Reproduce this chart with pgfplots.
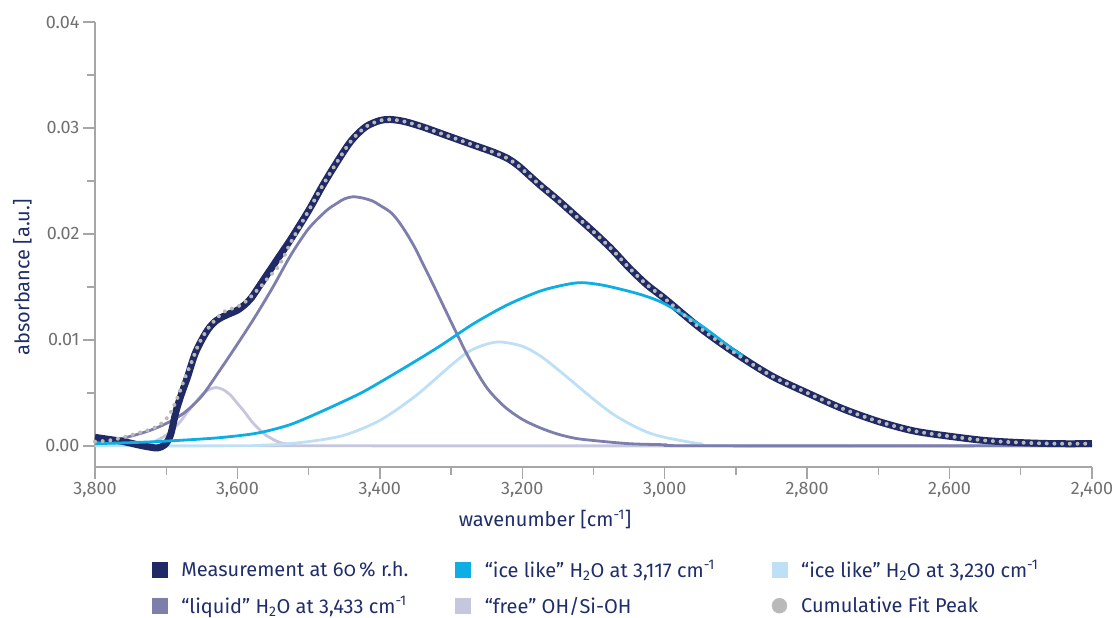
\documentclass[border=0pt]{standalone}
\usepackage{fontspec}
\setmainfont{Fira Sans}
\usepackage{pgfplots}
\pgfplotsset{compat=1.18}
\definecolor{navy}{RGB}{31,42,102}
\definecolor{icecyan}{RGB}{12,174,228}
\definecolor{icelight}{RGB}{190,224,246}
\definecolor{liquid}{RGB}{126,126,172}
\definecolor{freeoh}{RGB}{198,198,223}
\definecolor{fitgray}{RGB}{185,185,185}
\definecolor{axisgray}{RGB}{166,166,166}
\definecolor{tickgray}{RGB}{112,112,112}
\definecolor{labelnavy}{RGB}{31,45,107}

\pgfplotstableread{
x y
3800 0.0008
3780 0.0006
3760 0.0004
3740 0.0001
3725 -0.0001
3712 -0.0002
3702 0.0001
3694 0.0010
3686 0.0033
3678 0.0050
3670 0.0065
3660 0.0086
3650 0.0100
3640 0.0111
3630 0.0118
3620 0.0122
3610 0.0125
3600 0.0128
3590 0.0133
3580 0.0140
3570 0.0150
3560 0.0160
3550 0.0170
3537 0.0183
3525 0.0195
3500 0.0222
3480 0.0246
3460 0.0268
3440 0.0288
3420 0.0301
3400 0.0307
3385 0.0308
3365 0.0306
3340 0.0301
3315 0.0295
3290 0.0289
3265 0.0283
3240 0.0277
3220 0.0271
3205 0.0264
3190 0.0255
3175 0.0246
3150 0.0232
3125 0.0217
3100 0.0202
3075 0.0186
3050 0.0168
3025 0.0152
3000 0.0139
2950 0.0111
2900 0.0087
2850 0.0066
2800 0.0050
2750 0.0035
2700 0.0023
2650 0.0014
2600 0.0009
2550 0.0005
2500 0.0003
2450 0.0002
2400 0.0002
}\measured

\pgfplotstableread{
x y
3800 0.0004
3780 0.0005
3760 0.0008
3740 0.0012
3720 0.0016
3705 0.0022
3695 0.0030
3685 0.0044
3675 0.0062
3665 0.0078
3655 0.0095
3645 0.0107
3635 0.0116
3625 0.0123
3615 0.0128
3605 0.0130
3595 0.0133
3585 0.0138
3575 0.0145
3565 0.0152
3555 0.0160
3545 0.0167
3535 0.0178
3525 0.0192
3500 0.0222
3480 0.0246
3460 0.0268
3440 0.0288
3420 0.0301
3400 0.0307
3385 0.0308
3365 0.0306
3340 0.0301
3315 0.0295
3290 0.0289
3265 0.0283
3240 0.0277
3220 0.0271
3205 0.0264
3190 0.0255
3175 0.0246
3150 0.0232
3125 0.0217
3100 0.0202
3075 0.0186
3050 0.0168
3025 0.0152
3000 0.0139
2950 0.0111
2900 0.0087
2850 0.0066
2800 0.0050
2750 0.0035
2700 0.0023
2650 0.0014
2600 0.0009
2550 0.0005
2500 0.0003
2450 0.0002
2400 0.0002
}\cumfit

\pgfplotstableread{
x y
3800 0.0002
3750 0.0003
3713 0.0004
3660 0.0006
3620 0.0008
3572 0.0012
3526 0.0020
3480 0.0033
3432 0.0048
3410 0.0056
3362 0.0075
3316 0.0094
3269 0.0115
3221 0.0133
3175 0.0146
3140 0.0152
3117 0.0154
3090 0.0152
3063 0.0148
3030 0.0142
3000 0.0134
2950 0.0114
2904 0.0091
2890 0.0085
}\iceA

\pgfplotstableread{
x y
3800 0.0000
3600 0.0000
3550 0.0001
3500 0.0004
3450 0.0010
3400 0.0024
3350 0.0047
3300 0.0076
3275 0.0089
3250 0.0096
3230 0.0098
3200 0.0094
3175 0.0085
3150 0.0072
3125 0.0058
3100 0.0044
3075 0.0031
3050 0.0021
3025 0.0013
3000 0.0008
2950 0.0002
2900 0.0000
2400 0.0000
}\iceB

\pgfplotstableread{
x y
3800 0.0003
3775 0.0005
3750 0.0009
3725 0.0014
3700 0.0021
3675 0.0031
3650 0.0047
3625 0.0071
3600 0.0096
3575 0.0122
3550 0.0150
3525 0.0180
3500 0.0205
3475 0.0222
3460 0.0229
3450 0.0233
3438 0.0235
3425 0.0234
3410 0.0231
3400 0.0227
3386 0.0221
3375 0.0213
3362 0.0200
3350 0.0186
3339 0.0171
3325 0.0152
3300 0.0117
3275 0.0083
3250 0.0055
3225 0.0037
3200 0.0025
3175 0.0017
3150 0.0011
3125 0.0007
3100 0.0005
3050 0.0002
3000 0.0001
2950 0.0000
2400 0.0000
}\liquidtab

\pgfplotstableread{
x y
3800 0.0000
3740 0.0001
3720 0.0003
3700 0.0010
3690 0.0016
3680 0.0023
3670 0.0032
3660 0.0040
3650 0.0048
3640 0.0053
3630 0.0055
3620 0.0053
3610 0.0048
3600 0.0040
3590 0.0032
3580 0.0023
3570 0.0016
3560 0.0010
3540 0.0003
3520 0.0001
3500 0.0000
2400 0.0000
}\freetab

\begin{document}
\begin{tikzpicture}[x=1pt,y=1pt]
\path[use as bounding box] (0,0) rectangle (1116,618);
\begin{axis}[
  at={(95pt,151pt)}, anchor=south west,
  scale only axis, width=997pt, height=445pt,
  xmin=2400, xmax=3800, x dir=reverse,
  ymin=-0.002, ymax=0.04,
  axis x line*=bottom, axis y line*=left,
  axis line style={draw=axisgray, line width=1.4pt, -},
  xtick={2400,2600,2800,3000,3200,3400,3600,3800},
  minor xtick={2500,2700,2900,3100,3300,3500,3700},
  ytick={0,0.01,0.02,0.03,0.04},
  minor ytick={0.005,0.015,0.025,0.035},
  tick align=outside, major tick length=12pt, minor tick length=8pt,
  every tick/.style={draw=axisgray, line width=1.4pt},
  scaled y ticks=false,
  /pgf/number format/assume math mode=true,
  tick label style={font=\fontsize{18}{20}\selectfont, text=tickgray},
  xticklabel style={/pgf/number format/.cd, 1000 sep={,}},
  yticklabel style={/pgf/number format/.cd, fixed, fixed zerofill, precision=2},
  xlabel={wavenumber [cm\textsuperscript{-1}]},
  ylabel={absorbance [a.u.]},
  label style={font=\fontsize{20}{24}\selectfont, text=labelnavy},
  xlabel style={at={(axis cs:3168,-0.00764)}, anchor=base},
  ylabel style={at={(axis cs:3902,0.0159)}, anchor=center},
  legend columns=3,
  legend cell align=left,
  legend style={at={(axis cs:3720,-0.01060)}, anchor=north west, draw=none, fill=none,
    inner sep=0pt, outer sep=0pt, column sep=0pt, row sep=14pt,
    font=\fontsize{20}{24}\selectfont, text=labelnavy},
  clip=false,
]
\addlegendimage{legend image code/.code={\fill[navy] (0pt,-7.5pt) rectangle (15pt,7.5pt);}}
\addlegendentry{\makebox[284pt][l]{\hspace*{12pt}Measurement at {\addfontfeatures{Numbers=OldStyle}60}\,\% r.h.}}
\addlegendimage{legend image code/.code={\fill[icecyan] (0pt,-7.5pt) rectangle (15pt,7.5pt);}}
\addlegendentry{\makebox[297pt][l]{\hspace*{12pt}“ice like” H\textsubscript{2}O at 3,117 cm\textsuperscript{-1}}}
\addlegendimage{legend image code/.code={\fill[icelight] (0pt,-7.5pt) rectangle (15pt,7.5pt);}}
\addlegendentry{\makebox[260pt][l]{\hspace*{12pt}“ice like” H\textsubscript{2}O at 3,230 cm\textsuperscript{-1}}}
\addlegendimage{legend image code/.code={\fill[liquid] (0pt,-7.5pt) rectangle (15pt,7.5pt);}}
\addlegendentry{\makebox[284pt][l]{\hspace*{12pt}“liquid” H\textsubscript{2}O at 3,433 cm\textsuperscript{-1}}}
\addlegendimage{legend image code/.code={\fill[freeoh] (0pt,-7.5pt) rectangle (15pt,7.5pt);}}
\addlegendentry{\makebox[297pt][l]{\hspace*{12pt}“free” OH/Si-OH}}
\addlegendimage{legend image code/.code={\fill[fitgray] (7.5pt,0pt) circle (7.5pt);}}
\addlegendentry{\makebox[260pt][l]{\hspace*{12pt}Cumulative Fit Peak}}

\addplot[forget plot, freeoh, line width=2.8pt, smooth, line join=round] table {\freetab};
\addplot[forget plot, icelight, line width=2.8pt, smooth, line join=round] table {\iceB};
\addplot[forget plot, liquid, line width=2.8pt, smooth, line join=round] table {\liquidtab};
\addplot[forget plot, navy, line width=7pt, smooth, line join=round] table {\measured};
\addplot[forget plot, icecyan, line width=2.8pt, smooth, line join=round] table {\iceA};
\addplot[forget plot, fitgray, line width=4pt, smooth, line cap=round, dash pattern=on 0pt off 7.7pt] table {\cumfit};
\end{axis}
\end{tikzpicture}
\end{document}
